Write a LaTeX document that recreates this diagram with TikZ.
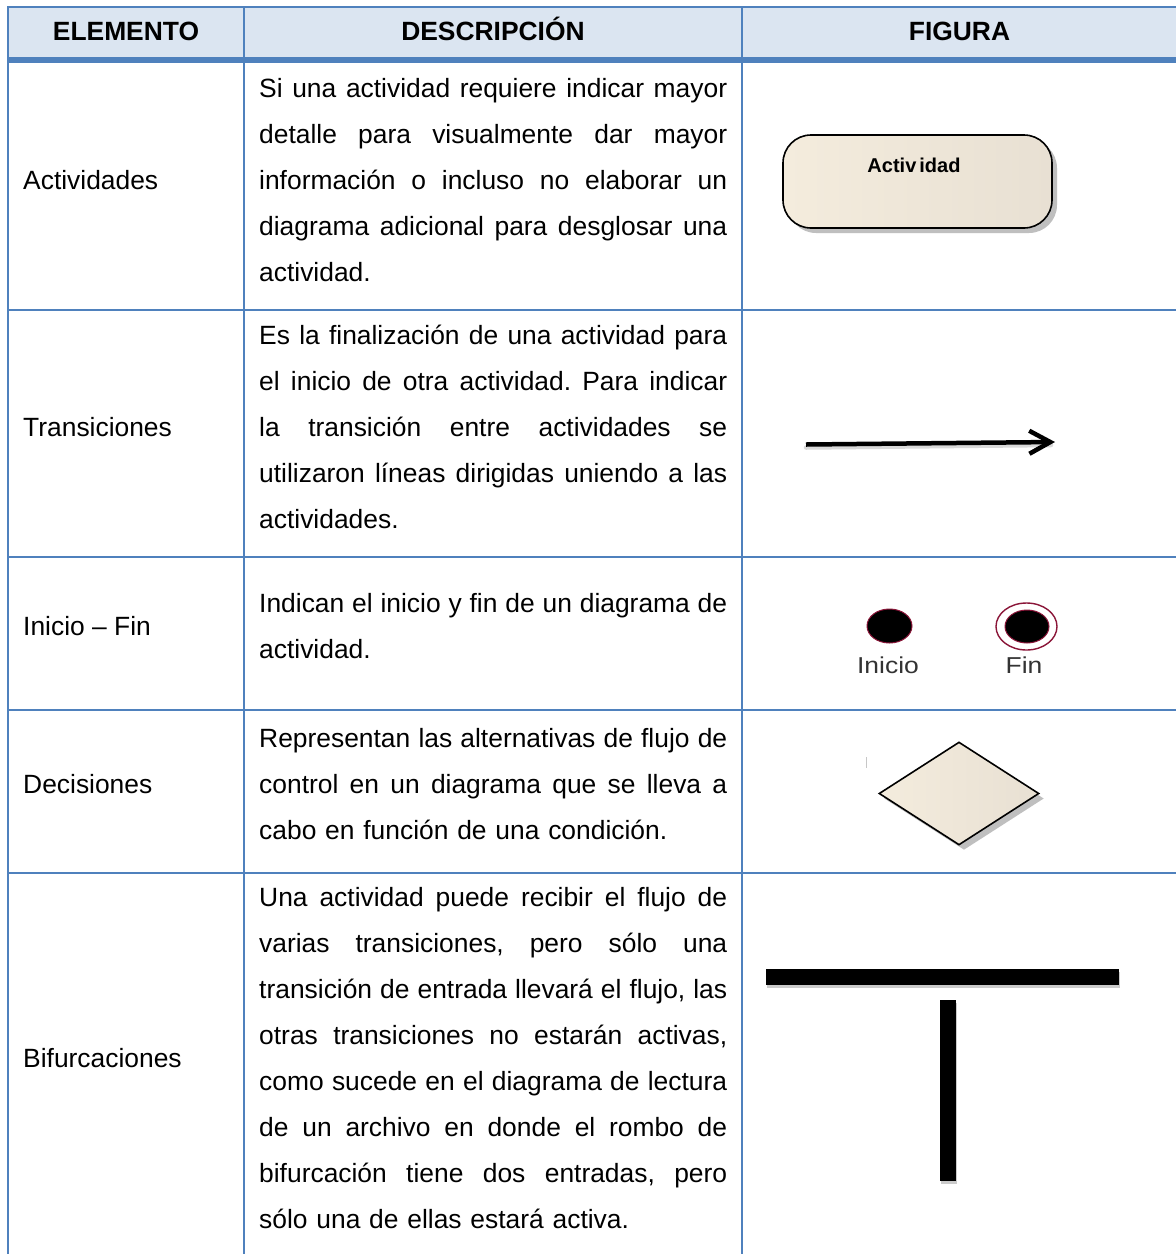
\documentclass[tikz,border=0pt]{standalone}
\usepackage{fontspec}
\setmainfont{Liberation Sans}
\usetikzlibrary{shapes.geometric,shadows,arrows.meta}

\definecolor{gridblue}{HTML}{4F81BD}
\definecolor{headfill}{HTML}{DBE5F1}
\definecolor{creamL}{HTML}{F4ECDD}
\definecolor{creamM}{HTML}{FAF1E3}
\definecolor{creamR}{HTML}{E8E0D3}
\definecolor{nodeedge}{HTML}{8A1538}
\definecolor{figlabel}{HTML}{333333}

% one justified line of a description cell: the spaces share the extra room evenly
\newcommand{\jl}[1]{\leavevmode\hbox to 468pt{\frenchspacing
  \spaceskip=0.278em plus 1fil minus 0.1em \xspaceskip=\spaceskip #1}\\}

\tikzset{
  grid/.style={draw=gridblue, line width=2pt},
  headtext/.style={font=\fontsize{26.4}{30}\selectfont\bfseries, anchor=base, inner sep=0pt},
  rowlabel/.style={font=\fontsize{26.4}{30}\selectfont, anchor=base west, inner sep=0pt},
  desc/.style={font=\fontsize{26.4}{46}\selectfont, anchor=base west, inner sep=0pt,
               text width=468pt, align=left},
  cream/.style={left color=creamL, middle color=creamM, right color=creamR},
  softshadow/.style={drop shadow={shadow xshift=5pt, shadow yshift=-5pt, fill=black!45, opacity=0.55}},
  barshadow/.style={drop shadow={shadow xshift=1pt, shadow yshift=-3pt, fill=black!40, opacity=0.5}},
  figtext/.style={font=\fontsize{23}{26}\selectfont, text=figlabel, anchor=base, inner sep=0pt, xscale=1.15},
}

\begin{document}
\begin{tikzpicture}[x=1pt, y=-1pt]
  \useasboundingbox (0,0) rectangle (1176,1254);
  \fill[white] (0,0) rectangle (1176,1254);

  % header band
  \fill[headfill] (8,7) rectangle (1176,57);

  % table rules
  \draw[grid] (8,7) -- (1176,7);
  \draw[draw=gridblue, line width=6pt] (8,60) -- (1176,60);
  \foreach \ry in {310,556.5,710,872.5}
    \draw[grid] (8,\ry) -- (1176,\ry);
  \foreach \cx in {8,244,742}
    \draw[grid] (\cx,6) -- (\cx,1254);

  % header
  \node[headtext] (hElem) at (126,40.5) {ELEMENTO};
  \node[headtext] (hDesc) at (493,40.5) {DESCRIPCIÓN};
  \node[headtext] (hFig)  at (959.5,40.5) {FIGURA};

  % first column
  \node[rowlabel] (lAct)  at (23,189)  {Actividades};
  \node[rowlabel] (lTran) at (23,436)  {Transiciones};
  \node[rowlabel] (lIni)  at (23,635)  {Inicio – Fin};
  \node[rowlabel] (lDec)  at (23,793)  {Decisiones};
  \node[rowlabel] (lBif)  at (23,1067) {Bifurcaciones};

  % second column
  \node[desc] (dAct) at (259,97) {%
    \jl{Si una actividad requiere indicar mayor}
    \jl{detalle para visualmente dar mayor}
    \jl{información o incluso no elaborar un}
    \jl{diagrama adicional para desglosar una}
    actividad.};
  \node[desc] (dTran) at (259,344) {%
    \jl{Es la finalización de una actividad para}
    \jl{el inicio de otra actividad. Para indicar}
    \jl{la transición entre actividades se}
    \jl{utilizaron líneas dirigidas uniendo a las}
    actividades.};
  \node[desc] (dIni) at (259,612) {%
    \jl{Indican el inicio y fin de un diagrama de}
    actividad.};
  \node[desc] (dDec) at (259,747) {%
    \jl{Representan las alternativas de flujo de}
    \jl{control en un diagrama que se lleva a}
    cabo en función de una condición.};
  \node[desc] (dBif) at (259,906) {%
    \jl{Una actividad puede recibir el flujo de}
    \jl{varias transiciones, pero sólo una}
    \jl{transición de entrada llevará el flujo, las}
    \jl{otras transiciones no estarán activas,}
    \jl{como sucede en el diagrama de lectura}
    \jl{de un archivo en donde el rombo de}
    \jl{bifurcación tiene dos entradas, pero}
    sólo una de ellas estará activa.};

  % activity
  \node[draw=black, line width=1.6pt, rounded corners=28pt, cream, softshadow,
        minimum width=269pt, minimum height=93pt, inner sep=0pt] (actBox) at (917.5,181.5) {};
  \node[font=\fontsize{20}{24}\selectfont\bfseries, anchor=base, inner sep=0pt] (actText)
        at (914,172) {Activ\kern3pt idad};

  % transition
  \coordinate (arrS) at (806,444.5);
  \coordinate (arrE) at (1055,442);
  \draw[line width=4.5pt, black!15, line cap=round] ([yshift=-3pt]arrS) -- ([xshift=-4pt,yshift=-3pt]arrE);
  \draw[line width=4.5pt, -{Straight Barb[length=21pt, width=23pt]}] (arrS) -- (arrE);

  % initial and final states
  \node[ellipse, fill=black, draw=nodeedge, line width=1pt,
        minimum width=45pt, minimum height=34pt, inner sep=0pt] (ini) at (889.5,626) {};
  \node[ellipse, draw=nodeedge, line width=1.4pt, fill=white,
        minimum width=61pt, minimum height=47pt, inner sep=0pt] (finRing) at (1026.5,626.5) {};
  \node[ellipse, fill=black, draw=nodeedge, line width=1pt,
        minimum width=44pt, minimum height=33pt, inner sep=0pt] (fin) at (1027,626.5) {};
  \node[figtext] (iniText) at (888,673) {Inicio};
  \node[figtext] (finText) at (1024,673) {Fin};

  % decision
  \draw[black!22, line width=1pt] (866,757) -- (866,768);
  \node[diamond, draw=black, line width=1.6pt, cream, softshadow,
        minimum width=160pt, minimum height=103pt, inner sep=0pt] (dec) at (959,793.5) {};

  % fork bars
  \node[rectangle, fill=black, barshadow, minimum width=353pt, minimum height=16pt,
        inner sep=0pt] (forkH) at (942.5,977) {};
  \node[rectangle, fill=black, barshadow, minimum width=16pt, minimum height=181pt,
        inner sep=0pt] (forkV) at (947.5,1090.5) {};
\end{tikzpicture}
\end{document}
